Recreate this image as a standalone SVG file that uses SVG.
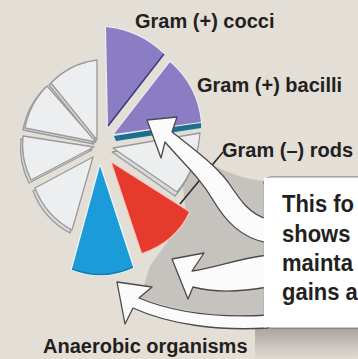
<svg xmlns="http://www.w3.org/2000/svg" width="358" height="359" viewBox="0 0 358 359">
<defs>
<linearGradient id="shadow" x1="0" y1="0" x2="0" y2="1">
<stop offset="0" stop-color="#a9a59f"/>
<stop offset="1" stop-color="#e0dbd3"/>
</linearGradient>
<style>
.lbl{font-family:"Liberation Sans",Arial,sans-serif;font-weight:bold;font-size:20px;fill:#231f20}
.box{font-family:"Liberation Sans",Arial,sans-serif;font-weight:bold;font-size:22px;fill:#231f20}
.gw{fill:#eceef0;stroke:#9a9a9a;stroke-width:1.3;stroke-linejoin:round}
.gwb{fill:#d9dadc;stroke:#9a9a9a;stroke-width:1.3;stroke-linejoin:round}
.arrow{fill:#fbfbfb;stroke:#4a4a4a;stroke-width:1.3;stroke-linejoin:round}
</style>
</defs>
<rect width="358" height="359" fill="#e3ded6"/>
<g id="callout-box">
<rect x="255" y="328" width="103" height="31" fill="url(#shadow)"/>
<rect x="263" y="177" width="110" height="151" rx="8" fill="#ffffff" stroke="#6a6a6a" stroke-width="1.2"/>
</g>
<g id="underside">
<path d="M190,150 C205,160 225,176 263,181 L263,318 C220,318 175,310 140,298 L150,266 L186,216 L182,178 Z" fill="#c6c3be"/>
</g>
<g id="wedge-gray-1">
<path class="gwb" d="M95,142 L49,85 A78 78 0 0 1 95,62 Z"/>
<path class="gw" d="M97,140 L51,83 A78 78 0 0 1 97,60 Z"/>
</g>
<g id="wedge-gray-2">
<path class="gwb" d="M94,144 L45,88 A80 80 0 0 0 23,130 Z"/>
<path class="gw" d="M96,142 L47,86 A80 80 0 0 0 25,128 Z"/>
</g>
<g id="wedge-gray-3">
<path class="gwb" d="M92,150 L21,139 A80 80 0 0 0 29,183 Z"/>
<path class="gw" d="M94,147 L23,136 A80 80 0 0 0 31,180 Z"/>
</g>
<g id="wedge-gray-4">
<path class="gwb" d="M91,160 L33,191 A80 80 0 0 0 70,233 Z"/>
<path class="gw" d="M93,157 L35,188 A80 80 0 0 0 72,230 Z"/>
</g>
<g id="wedge-gray-5">
<path class="gwb" d="M112,152 L199,137 Q196,172 175,196 Z"/>
<path class="gw" d="M113,148 L200,133 Q197,168 177,192 Z"/>
</g>
<g id="gram-pos-cocci">
<path d="M108,126 L106,27 A98 98 0 0 1 164,54 Z" fill="#8b7dc4" stroke="#f1f0f4" stroke-width="2" paint-order="stroke" stroke-linejoin="round"/>
<path d="M108,126 L164,54" stroke="#3b3d78" stroke-width="1.6" fill="none"/>
</g>
<g id="gram-pos-bacilli">
<path d="M114,136 L201,122 L201,128 L116,141 Z" fill="#1f6e8c" stroke="#bfe4f0" stroke-width="1.5" paint-order="stroke"/>
<path d="M114,134 L170,62 A92 92 0 0 1 201,122 Z" fill="#8b7dc4" stroke="#f1f0f4" stroke-width="2" paint-order="stroke" stroke-linejoin="round"/>
</g>
<g id="gram-neg-rods">
<path d="M112,163 L189,212 Q176,241 142,253 Z" fill="#e53a2c" stroke="#f6c9c2" stroke-width="2.5" paint-order="stroke" stroke-linejoin="round"/>
</g>
<g id="anaerobic">
<path d="M100,166 L72,269 Q103,281 133,267 Z" fill="#1b9bd7" stroke="#eef7fb" stroke-width="2.5" paint-order="stroke" stroke-linejoin="round"/>
<path d="M72,269 Q103,281 133,267" fill="none" stroke="#157db3" stroke-width="1.5"/>
</g>
<g id="connectors">
<path d="M223,152 L180,204" stroke="#2b2b2b" stroke-width="1.6" fill="none"/>
<path class="arrow" d="M147,120 L177,117 L172,132 C195,150 215,165 228,182 C240,200 250,215 268,219 L268,243 C240,238 225,220 213,200 C200,178 185,165 165,142 L161,158 Z"/>
<path class="arrow" d="M172,259 L204,253 L192,271 C215,268 240,258 268,255 L268,287 C240,292 215,293 193,287 L188,299 Z"/>
<path class="arrow" d="M117,282 L152,287 L139,298 C175,313 220,318 268,315 L268,328 C220,331 170,325 133,308 L125,324 Z"/>
</g>
<rect x="263.8" y="177.7" width="100" height="149.6" fill="#ffffff"/>
<g id="box-text">
<text class="box" transform="translate(282,212) scale(1,1.1)">This fo</text>
<text class="box" transform="translate(282,242) scale(1,1.1)">shows</text>
<text class="box" transform="translate(282,271) scale(1,1.1)">mainta</text>
<text class="box" transform="translate(282,300) scale(1,1.1)">gains a</text>
</g>
<g id="labels">
<text class="lbl" x="135" y="28">Gram (+) cocci</text>
<text class="lbl" x="197" y="92">Gram (+) bacilli</text>
<text class="lbl" x="222" y="157">Gram (–) rods</text>
<text class="lbl" x="43" y="353">Anaerobic organisms</text>
</g>
</svg>
